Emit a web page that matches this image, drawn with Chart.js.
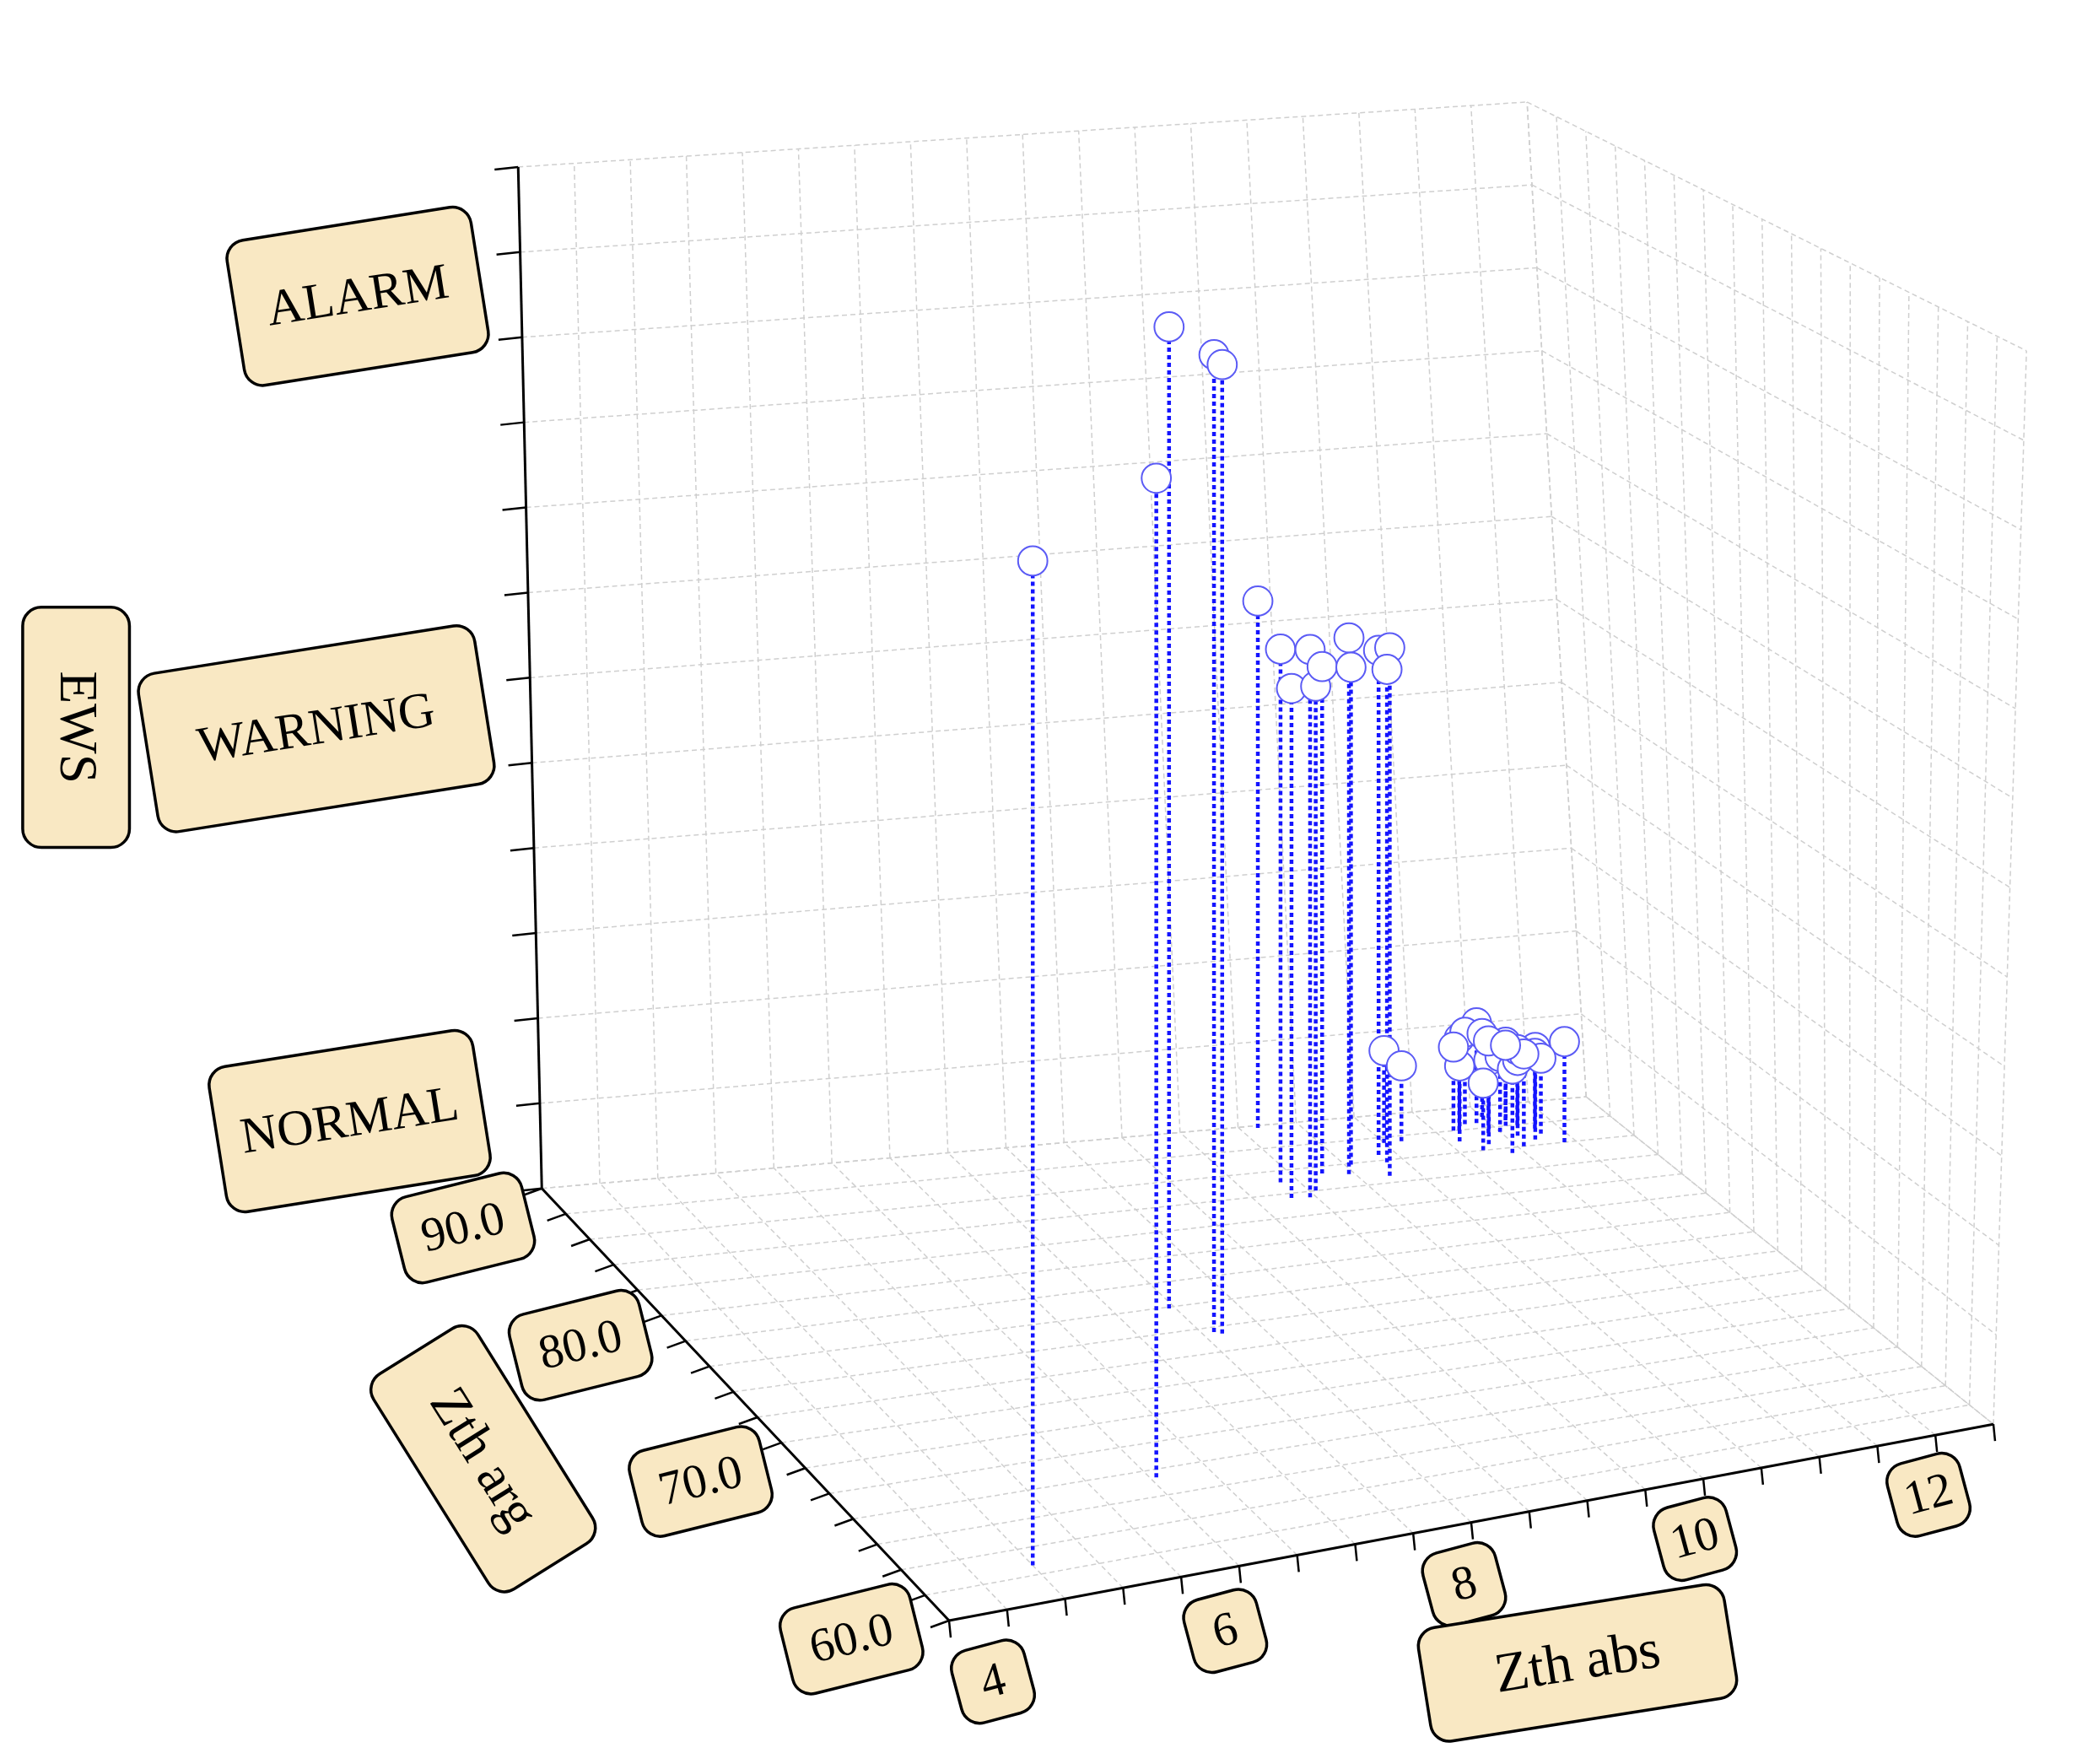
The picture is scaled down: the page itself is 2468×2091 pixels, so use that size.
<!DOCTYPE html>
<html><head><meta charset="utf-8">
<script src="https://cdn.jsdelivr.net/npm/chart.js@4"></script>
<style>html,body{margin:0;padding:0;background:#fff;overflow:hidden}</style>
</head><body>
<canvas id="c" width="2468" height="2091"></canvas>
<script>
// data: Zth abs, Zth arg, EWS
const zthAbs = [4.6,6.15,7.55,7.7,7.75,9.75,9.45,9.4,9.55,9.65,9.85,10.05,10.15,10.45,10.35,10.45,10.6,10.75,
  11.2,11.3,11.4,11.5,11.6,11.7,11.8,11.9,12.0,11.3,11.5,11.7,11.4,11.6,11.8,11.5,11.9,11.25,11.65,11.75];
const zthArg = [60.7,65.4,77.9,75.6,75.4,91.8,87,85.6,85.5,86,87.4,87.1,87.9,88.5,86.6,87.8,89.5,89.5,
  89,90,88.5,90.5,89.5,90,88.5,89.5,88,88,87.5,89,90.5,91,90,89.5,89,90,88,90.5];
const ews = [11.05,11.15,11.3,11.2,11.1,6.3,6.3,6.0,6.45,5.95,6.0,6.35,5.9,6.0,6.25,5.85,1.1,0.9,
  0.9,1.1,1.0,1.2,0.9,1.0,1.1,0.9,1.2,0.8,1.0,0.9,1.1,1.0,0.9,1.1,0.9,1.0,1.1,0.9];
const absTicks = [4,6,8,10,12];
const argTicks = ['60.0','70.0','80.0','90.0'];
const ewsLevels = ['NORMAL','WARNING','ALARM'];

const A0=3.6,A1=12.6,G0=58,G1=92;
const FL=[710,1225],FR=[1505,1075],BL=[400,895],BR=[1195,825];
const UFR=[2.1,-68.3],UBL=[-1.5,-65],UBR=[-3.75,-63.3],UFL=[4.35,-70];
function bil(P,s,t,i){return (1-s)*(1-t)*P[0][i]+s*(1-t)*P[1][i]+(1-s)*t*P[2][i]+s*t*P[3][i];}
function proj(a,g,e,vert){
  const s=(a-A0)/(A1-A0),t=(g-G0)/(G1-G0);
  const B=[FL,FR,BL,BR],U=[UFL,UFR,UBL,UBR];
  return {x:bil(B,s,t,0)+(vert?0:e*bil(U,s,t,0)),y:bil(B,s,t,1)+e*bil(U,s,t,1)};
}
const pts=zthAbs.map((a,i)=>proj(a,zthArg[i],ews[i],true));
const stems=[];
zthAbs.forEach((a,i)=>{stems.push(proj(a,zthArg[i],0,true));stems.push(proj(a,zthArg[i],ews[i],true));stems.push({x:null,y:null});});
const S=2468/1560;

const bg={id:'bg',beforeDatasetsDraw(ch){
  const c=ch.ctx,X=ch.scales.x,Y=ch.scales.y;
  const P=(a,g,e)=>{const p=proj(a,g,e);return [X.getPixelForValue(p.x),Y.getPixelForValue(p.y)];};
  const ln=(p,q)=>{c.beginPath();c.moveTo(p[0],p[1]);c.lineTo(q[0],q[1]);c.stroke();};
  c.save();c.strokeStyle='#cfcfcf';c.lineWidth=1.5;c.setLineDash([6,4]);
  for(let a=A0;a<=A1+1e-6;a+=0.5){ln(P(a,G0,0),P(a,G1,0));ln(P(a,G1,0),P(a,G1,12));}
  for(let g=G0;g<=G1+1e-6;g+=2){ln(P(A0,g,0),P(A1,g,0));ln(P(A1,g,0),P(A1,g,12));}
  for(let e=0;e<=12;e++){ln(P(A0,G1,e),P(A1,G1,e));ln(P(A1,G1,e),P(A1,G0,e));}
  c.setLineDash([]);c.strokeStyle='#000';c.lineWidth=3;
  ln(P(A0,G1,0),P(A0,G1,12));ln(P(A0,G0,0),P(A0,G1,0));ln(P(A0,G0,0),P(A1,G0,0));
  c.lineWidth=2.5;
  for(let e=0;e<=12;e++){const p=P(A0,G1,e);ln(p,[p[0]-28,p[1]+3]);}
  for(let g=G0;g<=G1+1e-6;g+=2){const p=P(A0,g,0);ln(p,[p[0]-22,p[1]+8]);}
  for(let a=A0;a<=A1+1e-6;a+=0.5){const p=P(a,G0,0);ln(p,[p[0]+2,p[1]+20]);}
  c.restore();
}};
function box(c,x,y,w,h,rot,text,fs,trot){
  c.save();c.translate(x*S,y*S);c.rotate(rot*Math.PI/180);
  const W=w*S,H=h*S,r=14*S;
  c.fillStyle='#f9e8c3';c.strokeStyle='#000';c.lineWidth=3.5;
  c.beginPath();c.roundRect(-W/2,-H/2,W,H,r);c.fill();c.stroke();
  if(trot)c.rotate(trot*Math.PI/180);
  c.fillStyle='#000';c.font=(fs*S)+'px "Liberation Serif"';c.textAlign='center';c.textBaseline='middle';
  c.fillText(text,0,2);c.restore();
}
const labels={id:'labels',afterDraw(ch){
  const c=ch.ctx;
  box(c,268,222,185,110,-9,ewsLevels[2],38);
  box(c,237,546,255,120,-9,ewsLevels[1],38);
  box(c,262,840,200,110,-9,ewsLevels[0],38);
  box(c,57,545,80,180,0,'EWS',40,90);
  const ap=[[638,1228],[525,1110],[435,1008],[347,920]];
  argTicks.forEach((t,i)=>box(c,ap[i][0],ap[i][1],100,66,-14,t,36));
  box(c,362,1093,190,92,58,'Zth arg',40);
  const bp=[[744,1260],[918,1222],[1097,1187],[1270,1153],[1445,1120]];
  absTicks.forEach((t,i)=>box(c,bp[i][0],bp[i][1],56,56,-15,String(t),36));
  box(c,1182,1246,232,86,-9,'Zth abs',42);
}};
new Chart(document.getElementById('c'),{
  type:'scatter',
  data:{datasets:[
    {data:pts,pointStyle:'circle',pointRadius:11*S,backgroundColor:'#ffffff',borderColor:'#5b5bf5',borderWidth:2,showLine:false},
    {data:stems,showLine:true,spanGaps:false,pointRadius:0,borderColor:'#1414ff',borderWidth:4.5,borderDash:[5,4]}
  ]},
  options:{responsive:false,animation:false,devicePixelRatio:1,
    layout:{padding:0},
    plugins:{legend:{display:false},tooltip:{enabled:false}},
    scales:{x:{type:'linear',min:0,max:1560,display:false},y:{type:'linear',min:0,max:1322,reverse:true,display:false}}},
  plugins:[bg,labels]
});
</script></body></html>
